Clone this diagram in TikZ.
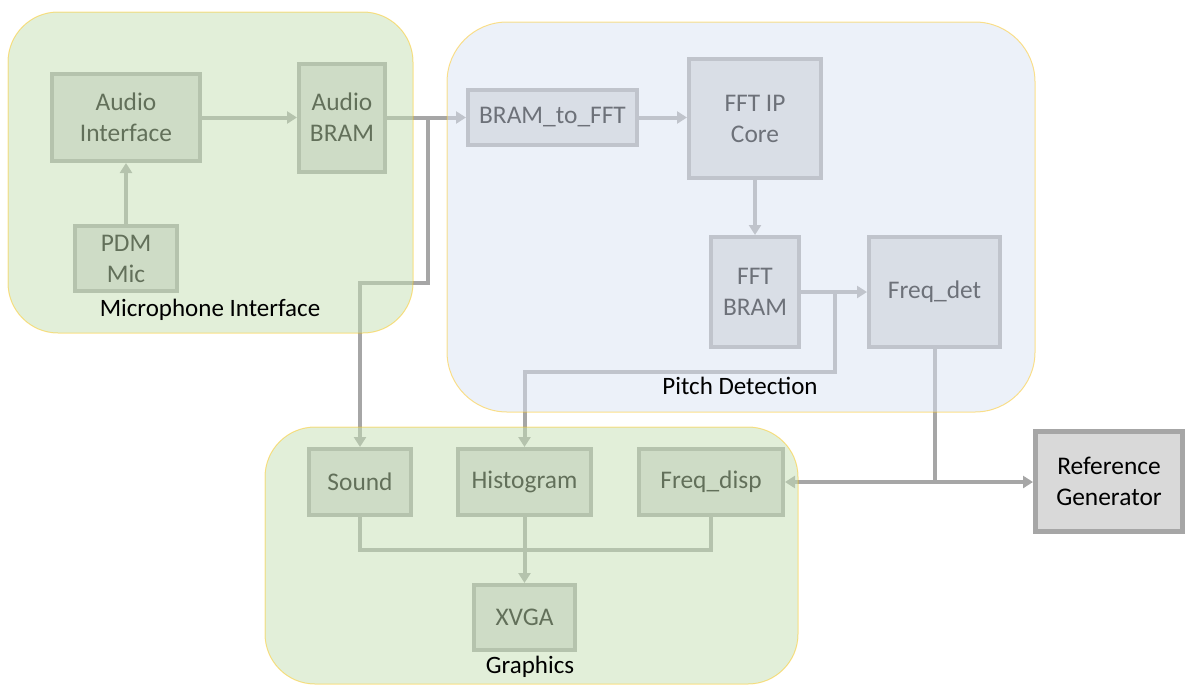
\documentclass[tikz,border=0pt]{standalone}
\usepackage{fontspec}
\setmainfont{Carlito}
\usepackage{tikz}
\usetikzlibrary{arrows.meta,positioning,calc}
\definecolor{micgreen}{HTML}{C5E0B4}
\definecolor{pitchblue}{HTML}{DAE3F3}
\definecolor{boxgray}{HTML}{D9D9D9}
\definecolor{linegray}{HTML}{A6A6A6}
\definecolor{edgegold}{HTML}{FFC000}
\tikzset{
  blk/.style={draw=linegray, fill=boxgray, line width=2pt, text=black, align=center,
    inner sep=0pt, font=\fontsize{12.7}{15.5}\selectfont},
  conn/.style={draw=linegray, line width=2pt},
  arr/.style={conn, -{Triangle[length=5pt,width=6pt]}},
  group/.style={fill opacity=0.5},
  groupedge/.style={draw=edgegold, opacity=0.45, line width=0.5pt},
  grouplabel/.style={font=\fontsize{12.5}{15.3}\selectfont, text=black},
}

\begin{document}
\begin{tikzpicture}[x=0.5pt, y=-0.5pt]
    \useasboundingbox (0,0) rectangle (1186,685);

    % blocks of the microphone interface
    \node[blk, minimum width=74pt, minimum height=43.5pt] (audioif) at (126,117.5) {Audio\\Interface};
    \node[blk, minimum width=43pt, minimum height=54pt] (audiobram) at (342,117.5) {Audio\\BRAM};
    \node[blk, minimum width=51pt, minimum height=32.5pt] (pdm) at (126,258.5) {PDM\\Mic};

    % blocks of the pitch detection
    \node[blk, minimum width=84.5pt, minimum height=27.5pt] (b2f) at (552.5,117.5) {BRAM\_to\_FFT};
    \node[blk, minimum width=66pt, minimum height=59.5pt] (fftcore) at (755,118.5) {FFT IP\\Core};
    \node[blk, minimum width=44pt, minimum height=55pt] (fftbram) at (755,292) {FFT\\BRAM};
    \node[blk, minimum width=65.5pt, minimum height=55pt] (freqdet) at (934.5,292) {Freq\_det};

    % blocks of the graphics
    \node[blk, minimum width=51pt, minimum height=33pt] (sound) at (360,482) {Sound};
    \node[blk, minimum width=66.5pt, minimum height=33pt] (hist) at (524.5,482) {Histogram};
    \node[blk, minimum width=72pt, minimum height=33pt] (freqdisp) at (711,482) {Freq\_disp};
    \node[blk, minimum width=50.5pt, minimum height=32.5pt] (xvga) at (524.5,617.5) {XVGA};

    % reference generator
    \node[blk, line width=2.5pt, minimum width=73.5pt, minimum height=50pt] (refgen) at (1109,481) {Reference\\Generator};

    % branch points
    \coordinate (split1) at (428,117.5);
    \coordinate (bend1) at (428,283);
    \coordinate (split2) at (835,292);
    \coordinate (bend2) at (835,372);
    \coordinate (split3) at (934.5,482);
    \coordinate (merge) at (524.5,550);

    % connections
    \draw[arr] (pdm) -- (audioif);
    \draw[arr] (audioif) -- (audiobram);
    \draw[arr] (audiobram) -- (b2f);
    \draw[arr] (split1) -- (bend1) -| (sound.north);
    \draw[arr] (b2f) -- (fftcore.west |- b2f);
    \draw[arr] (fftcore) -- (fftbram);
    \draw[arr] (fftbram) -- (freqdet);
    \draw[arr] (split2) -- (bend2) -| (hist.north);
    \draw[conn] (freqdet) -- (split3);
    \draw[arr] (split3) -- (freqdisp.east);
    \draw[arr] (split3) -- (split3 -| refgen.west);
    \draw[conn] (sound.south) |- (merge);
    \draw[conn] (freqdisp.south) |- (merge);
    \draw[arr] (hist) -- (xvga);

    % groups, laid over the blocks
    \fill[group, fill=micgreen, rounded corners=25pt] (8,12) rectangle (413,333);
    \draw[groupedge, rounded corners=25pt] (8,12) rectangle (413,333);
    \fill[group, fill=pitchblue, rounded corners=30pt] (447,22) rectangle (1035,412);
    \draw[groupedge, rounded corners=30pt] (447,22) rectangle (1035,412);
    \fill[group, fill=micgreen, rounded corners=25pt] (265,427) rectangle (798,684);
    \draw[groupedge, rounded corners=25pt] (265,427) rectangle (798,684);

    \node[grouplabel] (miclabel) at (210,310) {Microphone Interface};
    \node[grouplabel] (pitchlabel) at (740,386) {Pitch Detection};
    \node[grouplabel] (gfxlabel) at (530,667) {Graphics};
\end{tikzpicture}
\end{document}
